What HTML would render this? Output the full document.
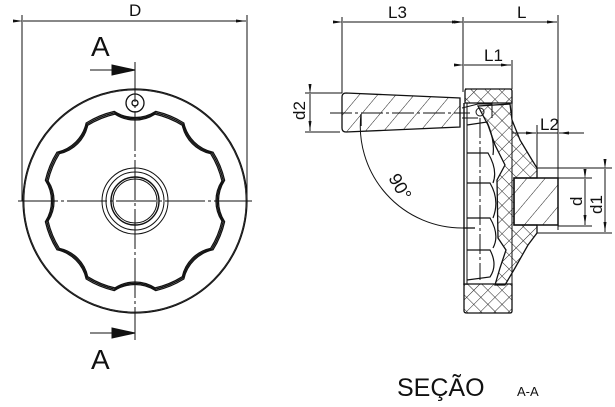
<!DOCTYPE html>
<html><head><meta charset="utf-8"><style>
html,body{margin:0;padding:0;background:#fff;}
svg{display:block;}
text{font-family:"Liberation Sans",sans-serif;fill:#111;}
</style></head><body>
<svg width="615" height="407" viewBox="0 0 615 407" xmlns="http://www.w3.org/2000/svg">
<defs>
<pattern id="h1" patternUnits="userSpaceOnUse" width="14" height="14" patternTransform="rotate(40)">
<line x1="0" y1="0" x2="0" y2="14" stroke="#222" stroke-width="1"/></pattern>
<pattern id="hx" patternUnits="userSpaceOnUse" width="10" height="10" patternTransform="rotate(45)">
<line x1="0" y1="0" x2="0" y2="10" stroke="#222" stroke-width="1"/><line x1="0" y1="0" x2="10" y2="0" stroke="#222" stroke-width="1"/></pattern>
<marker id="ar" markerWidth="10" markerHeight="6" refX="10" refY="3" orient="auto" markerUnits="userSpaceOnUse"><path d="M0,1.5 L10,3 L0,4.5z" fill="#111"/></marker>
</defs>
<g fill="none" stroke="#111" stroke-width="1">
<!-- LEFT VIEW -->
<line x1="22" y1="15" x2="22" y2="201"/>
<line x1="247" y1="15" x2="247" y2="201"/>
<line x1="23" y1="21" x2="246" y2="21" marker-start="url(#ar)" marker-end="url(#ar)"/>
<circle cx="135" cy="201" r="112" stroke-width="1.2"/>
<circle cx="135" cy="201" r="111" stroke-width="0.8"/>
<g id="wav" stroke-width="1.3">
<path d="M224.6,221.7 A92 92 0 0 1 213,249.8 A38 38 0 0 0 183.8,279 A92 92 0 0 1 155.7,290.6 A38 38 0 0 0 114.3,290.6 A92 92 0 0 1 86.2,279 A38 38 0 0 0 57,249.8 A92 92 0 0 1 45.4,221.7 A38 38 0 0 0 45.4,180.3 A92 92 0 0 1 57,152.2 A38 38 0 0 0 86.2,123 A92 92 0 0 1 114.3,111.4 A38 38 0 0 0 155.7,111.4 A92 92 0 0 1 183.8,123 A38 38 0 0 0 213,152.2 A92 92 0 0 1 224.6,180.3 A38 38 0 0 0 224.6,221.7Z"/>
</g>
<g transform="translate(135 201) scale(0.97) translate(-135 -201)" stroke-width="0.8"><use href="#wav"/></g>
<g transform="translate(135 201) scale(0.985) translate(-135 -201)" stroke-width="0.7"><use href="#wav"/></g>
<circle cx="135" cy="201" r="33"/>
<circle cx="135" cy="201" r="29"/>
<circle cx="135" cy="201" r="24" stroke-width="1.4"/>
<circle cx="135" cy="201" r="22"/>
<circle cx="135" cy="103" r="9" stroke-width="1.3"/>
<circle cx="135" cy="103" r="3" stroke-width="1.3"/>
<line x1="18" y1="201" x2="252" y2="201" stroke-dasharray="40 3 3 3"/>
<line x1="135" y1="62" x2="135" y2="340" stroke-dasharray="40 3 3 3"/>
<line x1="90" y1="70" x2="112" y2="70"/>
<path d="M112,65 L135,70 L112,75z" fill="#111"/>
<line x1="90" y1="333" x2="112" y2="333"/>
<path d="M112,328 L135,333 L112,338z" fill="#111"/>

<!-- RIGHT VIEW dims -->
<line x1="342" y1="17" x2="342" y2="93"/>
<line x1="463" y1="17" x2="463" y2="92"/>
<line x1="558" y1="15" x2="558" y2="230"/>
<line x1="343" y1="22" x2="462" y2="22" marker-start="url(#ar)" marker-end="url(#ar)"/>
<line x1="464" y1="22" x2="557" y2="22" marker-start="url(#ar)" marker-end="url(#ar)"/>
<line x1="512" y1="60" x2="512" y2="89"/>
<line x1="464" y1="65" x2="511" y2="65" marker-start="url(#ar)" marker-end="url(#ar)"/>
<line x1="305" y1="93" x2="342" y2="93"/>
<line x1="305" y1="132" x2="340" y2="132"/>
<line x1="310" y1="94" x2="310" y2="131" marker-start="url(#ar)" marker-end="url(#ar)"/>
<line x1="537" y1="125" x2="537" y2="168"/>
<line x1="512" y1="133" x2="536" y2="133" marker-end="url(#ar)"/>
<line x1="584" y1="133" x2="559" y2="133" marker-end="url(#ar)"/>
<line x1="537" y1="133" x2="558" y2="133"/>
<line x1="537" y1="168" x2="612" y2="168"/>
<line x1="537" y1="233" x2="612" y2="233"/>
<line x1="558" y1="178" x2="592" y2="178"/>
<line x1="558" y1="226" x2="592" y2="226"/>
<line x1="585" y1="179" x2="585" y2="225" marker-start="url(#ar)" marker-end="url(#ar)"/>
<line x1="605" y1="169" x2="605" y2="232" marker-start="url(#ar)" marker-end="url(#ar)"/>
<path d="M361,114 A102 102 0 0 0 463,228"/>
<line x1="361" y1="114" x2="361" y2="126" stroke-width="1.3"/>
<line x1="463" y1="228" x2="475" y2="228" stroke-width="1.3"/>

<!-- handle -->
<path d="M346,93 L460,98 L460,127 L346,132 Q342,132 342,128 L342,97 Q342,93 346,93Z" fill="url(#h1)" stroke-width="1.3"/>
<line x1="330" y1="113" x2="470" y2="113" stroke-dasharray="22 3 3 3"/>
<!-- rim -->
<path d="M465,89 L510,89 Q512,89 512,91 L512,103 L465,103 L465,91 Q465,89 467,89Z" fill="url(#hx)" stroke-width="1.3"/>
<path d="M465,284 L512,284 L512,311 Q512,313 510,313 L467,313 Q464,313 464,311 L464,284Z" fill="url(#hx)" stroke-width="1.3"/>
<!-- hub -->
<path d="M478,106 L510,104 L512,120 L520,140 L532,160 L537,168 L537,178 L514,178 L514,225 L537,225 L537,233 L528,245 L515,268 L505,285 L495,285 L500,268 L506,250 L498,238 L497,180 L505,165 L495,145 L488,125 Z" fill="url(#hx)" stroke-width="1.3"/>
<rect x="514" y="178" width="44" height="47" fill="url(#h1)" stroke-width="1.5"/>
<!-- disk body -->
<line x1="464" y1="103" x2="464" y2="285" stroke-width="1.4"/>
<line x1="467" y1="103" x2="467" y2="285"/>
<line x1="512" y1="103" x2="512" y2="284"/>
<path d="M467,125 L487,122 Q495,140 493,155 M467,153 L488,153 Q498,170 493,183 M467,183 L490,183 Q500,200 493,218 M467,218 L490,218 Q500,235 493,248 M467,250 L490,250 Q498,265 490,277 L467,280" stroke-width="1.2"/>
<line x1="480" y1="118" x2="480" y2="280" stroke-dasharray="20 3 3 3"/>
<circle cx="480" cy="112" r="4"/>
<path d="M462,108 L478,104 L492,104 L492,118 M462,118 L478,118"/>
</g>
<g font-size="17">
<text x="129" y="16">D</text>
<text x="388" y="18">L3</text>
<text x="517" y="18">L</text>
<text x="484" y="61">L1</text>
<text x="540" y="130">L2</text>
<text transform="translate(305 120) rotate(-90)">d2</text>
<text transform="translate(582 206) rotate(-90)">d</text>
<text transform="translate(602 214) rotate(-90)">d1</text>
<text transform="translate(388 178) rotate(60)" font-size="18">90°</text>
</g>
<text x="91" y="56" font-size="28">A</text>
<text x="91" y="369" font-size="28">A</text>
<text x="397" y="396" font-size="25">SEÇÃO</text>
<text x="517" y="396" font-size="13">A-A</text>
</svg>
</body></html>
